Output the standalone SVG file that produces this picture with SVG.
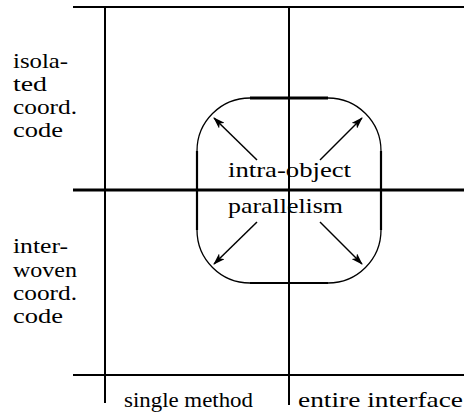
<svg xmlns="http://www.w3.org/2000/svg" width="464" height="414" viewBox="0 0 464 414">
  <style>
    .grid { stroke: #000; stroke-width: 2; fill: none; }
    .thick { stroke: #000; stroke-width: 3; fill: none; }
    .curve { stroke: #000; stroke-width: 1.3; fill: none; }
    .side { stroke: #000; stroke-width: 2.2; fill: none; }
    .arrow { stroke: #000; stroke-width: 1.5; fill: none; marker-end: url(#head); }
    text { font-family: "Liberation Serif", "Times New Roman", serif; font-size: 21px; fill: #000; }
  </style>
  <defs>
    <marker id="head" viewBox="0 0 12 8" refX="11" refY="4" markerWidth="12" markerHeight="8" markerUnits="userSpaceOnUse" orient="auto">
      <path d="M0,0 L12,4 L0,8 L3,4 Z" fill="#000"/>
    </marker>
  </defs>

  <!-- axes of the classification grid -->
  <g id="grid">
    <line class="grid" x1="73" y1="7" x2="464" y2="7"/>
    <line class="thick" x1="73" y1="190" x2="464" y2="190"/>
    <line class="grid" x1="73" y1="375" x2="464" y2="375"/>
    <line class="grid" x1="105" y1="6" x2="105" y2="403"/>
    <line class="grid" x1="289" y1="6" x2="289" y2="405"/>
  </g>

  <!-- row labels -->
  <g id="row-isolated">
    <text x="13" y="68" textLength="55" lengthAdjust="spacingAndGlyphs">isola-</text>
    <text x="13" y="91" textLength="34" lengthAdjust="spacingAndGlyphs">ted</text>
    <text x="13" y="114" textLength="64" lengthAdjust="spacingAndGlyphs">coord.</text>
    <text x="13" y="137" textLength="50" lengthAdjust="spacingAndGlyphs">code</text>
  </g>
  <g id="row-interwoven">
    <text x="13" y="253" textLength="55" lengthAdjust="spacingAndGlyphs">inter-</text>
    <text x="13" y="277" textLength="64" lengthAdjust="spacingAndGlyphs">woven</text>
    <text x="13" y="300" textLength="64" lengthAdjust="spacingAndGlyphs">coord.</text>
    <text x="13" y="323" textLength="50" lengthAdjust="spacingAndGlyphs">code</text>
  </g>

  <!-- column labels -->
  <g id="col-single">
    <text x="124" y="407" textLength="129" lengthAdjust="spacingAndGlyphs">single method</text>
  </g>
  <g id="col-entire">
    <text x="298" y="407" textLength="165" lengthAdjust="spacingAndGlyphs">entire interface</text>
  </g>

  <!-- intra-object parallelism region -->
  <g id="intra-object">
    <path class="curve" d="M250,98 A53,53 0 0 0 197,151 M197,230 A53,53 0 0 0 250,283 M328,283 A53,53 0 0 0 381,230 M381,151 A53,53 0 0 0 328,98"/>
    <line class="thick" x1="250" y1="98" x2="328" y2="98"/>
    <line class="side" x1="250" y1="283" x2="328" y2="283"/>
    <line class="side" x1="197" y1="151" x2="197" y2="230"/>
    <line class="side" x1="381" y1="151" x2="381" y2="230"/>
    <text x="228" y="177" textLength="123" lengthAdjust="spacingAndGlyphs">intra-object</text>
    <text x="228" y="213" textLength="115" lengthAdjust="spacingAndGlyphs">parallelism</text>
  </g>

  <g id="connectors">
    <line class="arrow" x1="257" y1="160" x2="214" y2="118"/>
    <line class="arrow" x1="320" y1="160" x2="362" y2="118"/>
    <line class="arrow" x1="257" y1="222" x2="214" y2="264"/>
    <line class="arrow" x1="320" y1="222" x2="362" y2="264"/>
  </g>
</svg>
